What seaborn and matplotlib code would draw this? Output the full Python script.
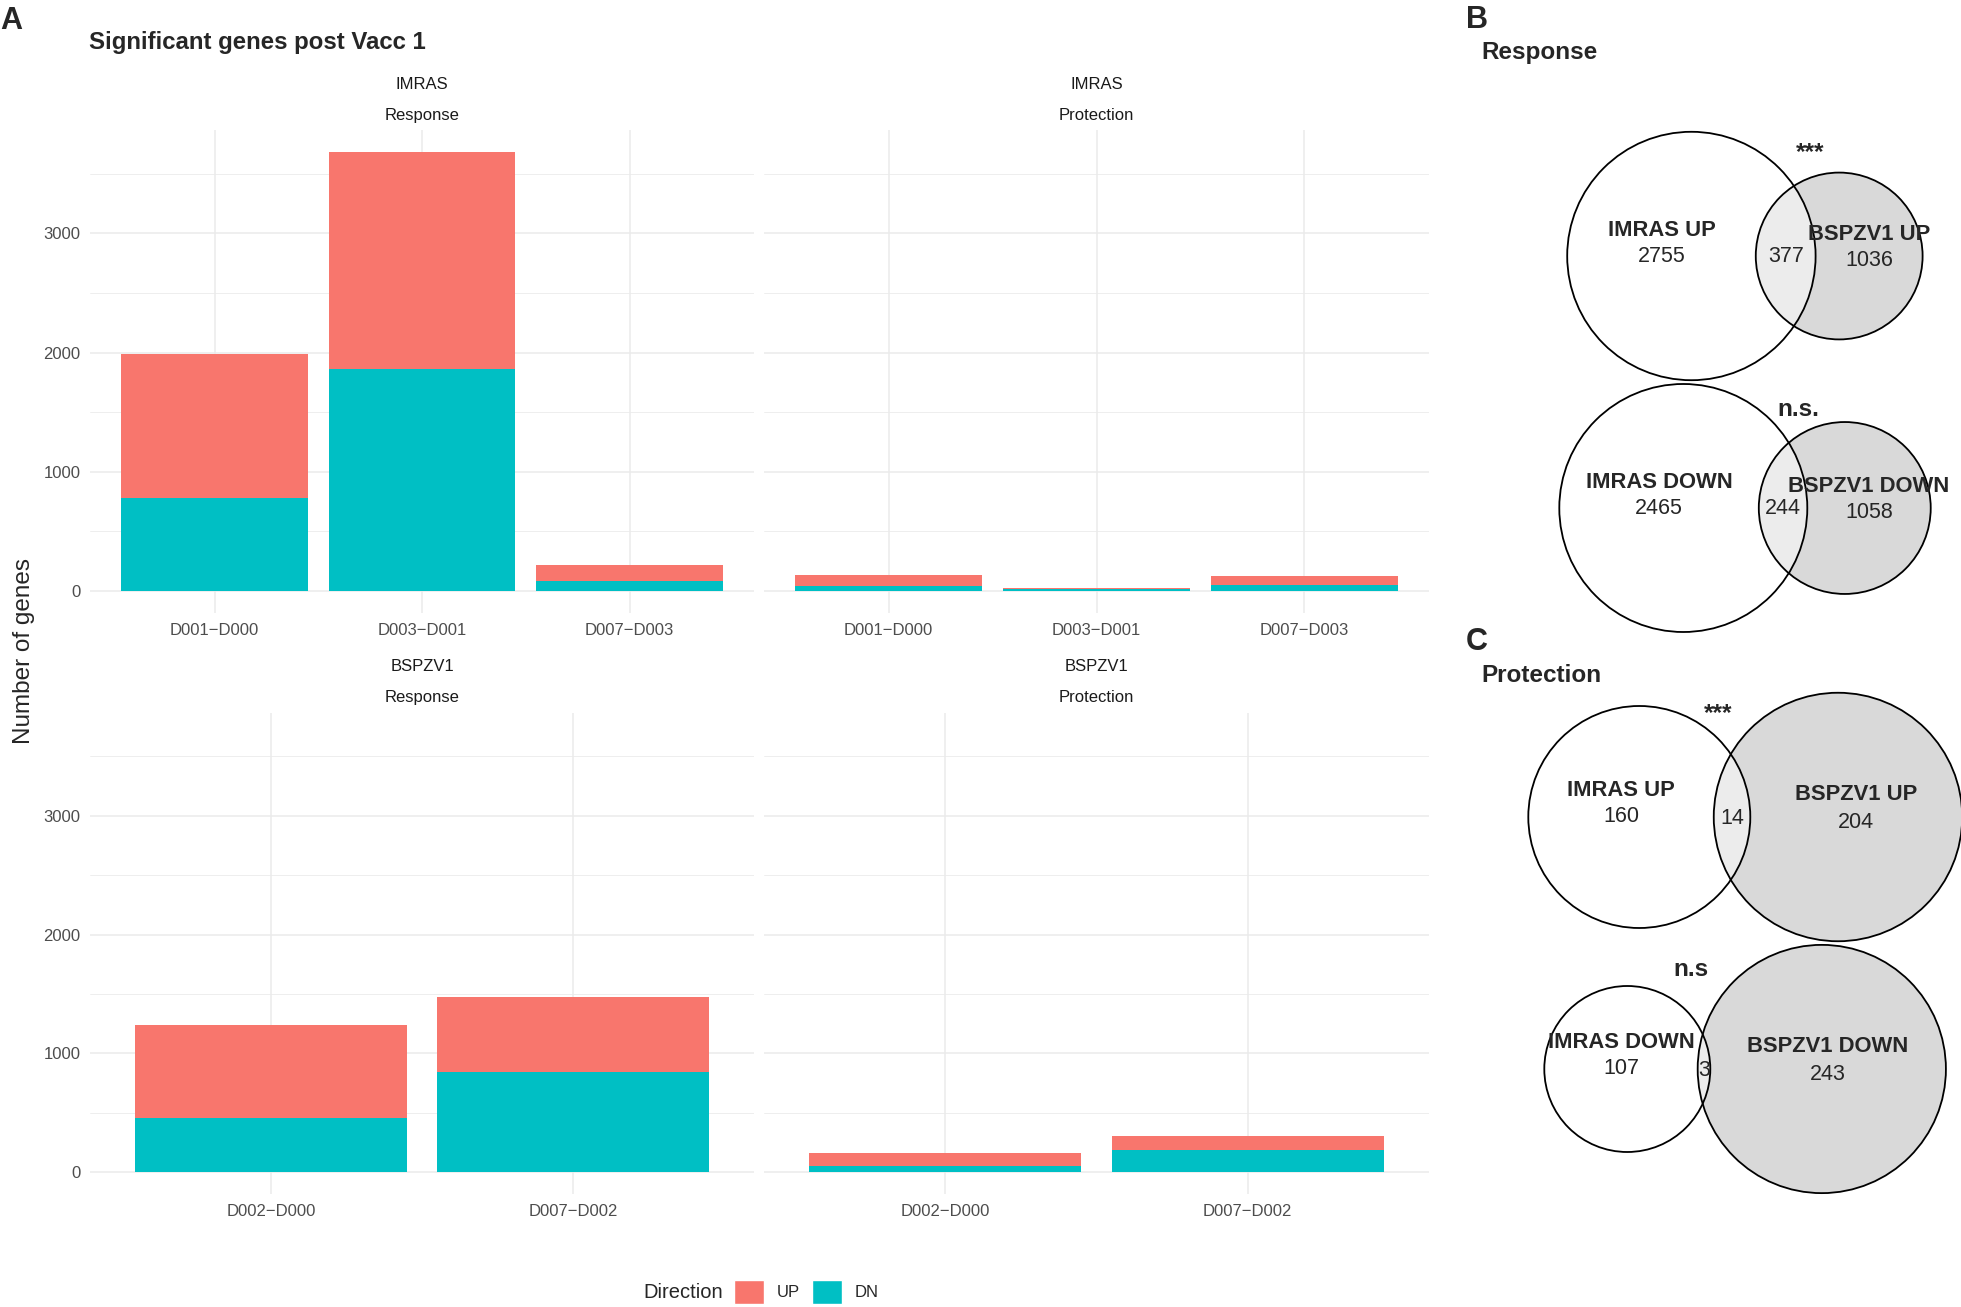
import numpy as np
import matplotlib
matplotlib.use("Agg")
import matplotlib.pyplot as plt
from matplotlib.patches import Circle, Patch
from matplotlib.ticker import MultipleLocator
import seaborn as sns

# ---- data: panel A (number of significant genes) ----
imras_cmp = ["D001\u2212D000", "D003\u2212D001", "D007\u2212D003"]
imras_resp_up = [1210, 1820, 135]
imras_resp_dn = [780, 1865, 80]
imras_prot_up = [98, 12, 73]
imras_prot_dn = [36, 10, 50]

bspzv1_cmp = ["D002\u2212D000", "D007\u2212D002"]
bspzv1_resp_up = [787, 631]
bspzv1_resp_dn = [452, 840]
bspzv1_prot_up = [113, 112]
bspzv1_prot_dn = [50, 188]

# ---- data: panels B and C (venn overlaps: imras only, bspzv1 only, both) ----
venn_resp_up = [2755, 1036, 377]
venn_resp_dn = [2465, 1058, 244]
venn_prot_up = [160, 204, 14]
venn_prot_dn = [107, 243, 3]
venn_names_up = ["IMRAS UP", "BSPZV1 UP"]
venn_names_dn = ["IMRAS DOWN", "BSPZV1 DOWN"]
venn_sig = ["***", "n.s.", "***", "n.s"]

UP_COL = "#F8766D"
DN_COL = "#00BFC4"
GRID = "#EBEBEB"

sns.set_style("white")
plt.rcParams['font.family'] = ['Liberation Sans', 'DejaVu Sans']

W, H = 1961, 1307
fig = plt.figure(figsize=(W / 100, H / 100), dpi=100)


def px_box(x0, y0, x1, y1):
    return [x0 / W, 1 - y1 / H, (x1 - x0) / W, (y1 - y0) / H]


ymax = max([u + d for u, d in zip(imras_resp_up + imras_prot_up + bspzv1_resp_up + bspzv1_prot_up,
                                   imras_resp_dn + imras_prot_dn + bspzv1_resp_dn + bspzv1_prot_dn)])
ylo, yhi = -0.05 * ymax, 1.05 * ymax


def facet(ax, cmp, up, dn, strip1, strip2, show_y):
    total = [u + d for u, d in zip(up, dn)]
    sns.barplot(x=cmp, y=total, color=UP_COL, width=0.9, saturation=1,
                errorbar=None, linewidth=0, ax=ax, zorder=2)
    sns.barplot(x=cmp, y=dn, color=DN_COL, width=0.9, saturation=1,
                errorbar=None, linewidth=0, ax=ax, zorder=2)
    ax.set_xlim(-0.6, len(cmp) - 0.4)
    ax.set_ylim(ylo, yhi)
    ax.set_yticks([0, 1000, 2000, 3000])
    ax.yaxis.set_minor_locator(MultipleLocator(500))
    ax.set_axisbelow(True)
    ax.grid(axis='y', which='major', color=GRID, lw=1.1)
    ax.grid(axis='y', which='minor', color=GRID, lw=0.6)
    ax.grid(axis='x', which='major', color=GRID, lw=1.1)
    for s in ax.spines.values():
        s.set_visible(False)
    ax.tick_params(which='both', length=0, labelsize=12, labelcolor='#4D4D4D')
    ax.tick_params(axis='x', pad=7.5)
    ax.tick_params(axis='y', pad=7)
    if not show_y:
        ax.tick_params(labelleft=False)
    ax.set_xlabel('')
    ax.set_ylabel('')
    ax.annotate(strip1, (0.5, 1), xycoords='axes fraction', xytext=(0, 32.8),
                textcoords='offset points', ha='center', va='center', fontsize=12, color='#1A1A1A')
    ax.annotate(strip2, (0.5, 1), xycoords='axes fraction', xytext=(0, 10.6),
                textcoords='offset points', ha='center', va='center', fontsize=12, color='#1A1A1A')


ax1 = fig.add_axes(px_box(90, 130, 754, 612.5))
ax2 = fig.add_axes(px_box(764, 130, 1429, 612.5))
ax3 = fig.add_axes(px_box(90, 712.5, 754, 1194))
ax4 = fig.add_axes(px_box(764, 712.5, 1429, 1194))
facet(ax1, imras_cmp, imras_resp_up, imras_resp_dn, "IMRAS", "Response", True)
facet(ax2, imras_cmp, imras_prot_up, imras_prot_dn, "IMRAS", "Protection", False)
facet(ax3, bspzv1_cmp, bspzv1_resp_up, bspzv1_resp_dn, "BSPZV1", "Response", True)
facet(ax4, bspzv1_cmp, bspzv1_prot_up, bspzv1_prot_dn, "BSPZV1", "Protection", False)

fig.text(24 / W, 1 - 651 / H, "Number of genes", rotation=90, ha='center', va='center', fontsize=17.5)
fig.text(0 / W, 1 - 21 / H, "A", ha='left', va='center', fontsize=22, fontweight='bold')
fig.text(89 / W, 1 - 43 / H, "Significant genes post Vacc 1", ha='left', va='center',
         fontsize=17.3, fontweight='bold')

# legend
fig.text(643 / W, 1 - 1292 / H, "Direction", ha='left', va='center', fontsize=14.5)
handles = [Patch(facecolor=UP_COL, label="UP"), Patch(facecolor=DN_COL, label="DN")]
fig.legend(handles=handles, loc='center left', bbox_to_anchor=(734 / W, 1 - 1292 / H), ncol=2,
           frameon=False, fontsize=12, handlelength=1.8, handleheight=1.8,
           handletextpad=0.75, columnspacing=0.75, borderpad=0, borderaxespad=0)


# ---- venn diagrams (area proportional) ----
def lens_area(r1, r2, d):
    if d >= r1 + r2:
        return 0.0
    if d <= abs(r1 - r2):
        return np.pi * min(r1, r2) ** 2
    a1 = r1 ** 2 * np.arccos((d * d + r1 * r1 - r2 * r2) / (2 * d * r1))
    a2 = r2 ** 2 * np.arccos((d * d + r2 * r2 - r1 * r1) / (2 * d * r2))
    a3 = 0.5 * np.sqrt((-d + r1 + r2) * (d + r1 - r2) * (d - r1 + r2) * (d + r1 + r2))
    return a1 + a2 - a3


def venn(ax, counts, names, sig, left, cy, r1px, sig_xy):
    a_only, b_only, ab = counts
    r1 = np.sqrt((a_only + ab) / np.pi)
    r2 = np.sqrt((b_only + ab) / np.pi)
    lo, hi = abs(r1 - r2), r1 + r2
    for _ in range(80):
        mid = (lo + hi) / 2
        if lens_area(r1, r2, mid) > ab:
            lo = mid
        else:
            hi = mid
    k = r1px / r1
    R1, R2, D = r1px, r2 * k, (lo + hi) / 2 * k
    cx1 = left + R1
    cx2 = cx1 + D
    ax.add_patch(Circle((cx2, cy), R2, facecolor='#D9D9D9', edgecolor='none'))
    ax.add_patch(Circle((cx1, cy), R1, facecolor='white', alpha=0.5, edgecolor='none'))
    ax.add_patch(Circle((cx1, cy), R1, facecolor='none', edgecolor='black', lw=1.3))
    ax.add_patch(Circle((cx2, cy), R2, facecolor='none', edgecolor='black', lw=1.3))
    xa = ((cx1 - R1) + (cx2 - R2)) / 2
    xo = ((cx2 - R2) + (cx1 + R1)) / 2
    xb = ((cx1 + R1) + (cx2 + R2)) / 2
    ax.text(xa, cy, f"{a_only}", ha='center', va='center', fontsize=15.5)
    ax.text(xo, cy + 1, f"{ab}", ha='center', va='center', fontsize=15.5)
    ax.text(xb, cy + 5, f"{b_only}", ha='center', va='center', fontsize=15.5)
    ax.text(xa, cy - 26, names[0], ha='center', va='center', fontsize=15.8, fontweight='bold')
    ax.text(xb, cy - 22, names[1], ha='center', va='center', fontsize=15.8, fontweight='bold')
    ax.text(sig_xy[0], sig_xy[1], sig, ha='center', va='center', fontsize=17.5, fontweight='bold')


axv = fig.add_axes(px_box(1440, 0, W, H))
axv.set_xlim(1440, W)
axv.set_ylim(H, 0)
axv.axis('off')
venn(axv, venn_resp_up, venn_names_up, venn_sig[0], 1567.2, 256, 124.2, (1810, 153))
venn(axv, venn_resp_dn, venn_names_dn, venn_sig[1], 1559.3, 508, 124.0, (1798, 410))
venn(axv, venn_prot_up, venn_names_up, venn_sig[2], 1528.3, 817, 111.0, (1718, 714))
venn(axv, venn_prot_dn, venn_names_dn, venn_sig[3], 1544.3, 1069, 83.0, (1691, 969))

fig.text(1466 / W, 1 - 20 / H, "B", ha='left', va='center', fontsize=22, fontweight='bold')
fig.text(1481 / W, 1 - 52 / H, "Response", ha='left', va='center', fontsize=17.5, fontweight='bold')
fig.text(1466 / W, 1 - 642 / H, "C", ha='left', va='center', fontsize=22, fontweight='bold')
fig.text(1481 / W, 1 - 676 / H, "Protection", ha='left', va='center', fontsize=17.5, fontweight='bold')

fig.savefig("out.png", dpi=100, facecolor='white')
